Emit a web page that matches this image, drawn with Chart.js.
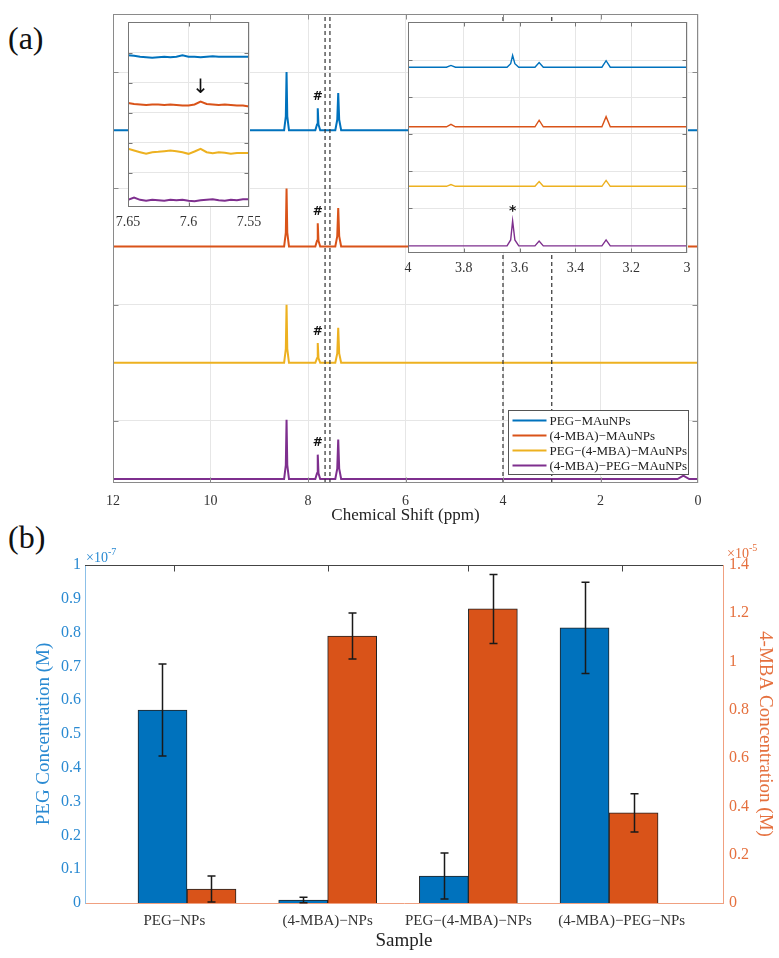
<!DOCTYPE html>
<html>
<head>
<meta charset="utf-8">
<script src="https://cdn.jsdelivr.net/npm/chart.js@4.4.1/dist/chart.umd.min.js"></script>
<style>
  html, body { margin: 0; padding: 0; background: #fff; }
  #wrap { position: relative; width: 779px; height: 958px; font-family: 'Liberation Serif', 'Times New Roman', serif; }
  #wrap canvas { position: absolute; }
  .tag { position: absolute; font-size: 32px; line-height: 1; color: #111; }
</style>
</head>
<body>
<div id="wrap">
  <div class="tag" style="left:8px;top:22px">(a)</div>
  <div class="tag" style="left:8px;top:521px">(b)</div>
  <canvas id="nmr" width="779" height="530" style="left:0;top:0"></canvas>
  <canvas id="zoomA" width="160" height="230" style="left:110px;top:10px"></canvas>
  <canvas id="zoomB" width="300" height="270" style="left:400px;top:10px"></canvas>
  <canvas id="conc" width="779" height="428" style="left:0;top:530px"></canvas>
</div>
<script>
const SERIF = "'Liberation Serif', 'Times New Roman', serif";

// ---- (a) NMR spectra ----
const seriesNames = ['PEG\u2212MAuNPs', '(4-MBA)\u2212MAuNPs', 'PEG\u2212(4-MBA)\u2212MAuNPs', '(4-MBA)\u2212PEG\u2212MAuNPs'];
const seriesColors = ['#0072BD', '#D95319', '#EDB120', '#7E2F8E'];
const stackOffsets = [3, 2, 1, 0];

// full range, normalised intensity
const ppmFull    = [12, 8.49, 8.455, 8.44, 8.425, 8.39, 7.85, 7.815, 7.80, 7.785, 7.75, 7.44, 7.40, 7.38, 7.36, 7.32, 0.42, 0.30, 0.18, 0];
const pegFull    = [0, 0, 0.12, 0.50, 0.12, 0, 0, 0.05, 0.19, 0.05, 0, 0, 0.09, 0.32, 0.09, 0, 0, 0, 0, 0];
const mbaFull    = [0, 0, 0.12, 0.50, 0.12, 0, 0, 0.05, 0.20, 0.05, 0, 0, 0.09, 0.33, 0.09, 0, 0, 0, 0, 0];
const pegMbaFull = [0, 0, 0.12, 0.50, 0.12, 0, 0, 0.04, 0.17, 0.04, 0, 0, 0.08, 0.30, 0.08, 0, 0, 0, 0, 0];
const mbaPegFull = [0, 0, 0.12, 0.51, 0.12, 0, 0, 0.05, 0.21, 0.05, 0, 0, 0.09, 0.34, 0.09, 0, 0, 0.03, 0, 0];
const hashPeakIndex = 8;
const fullYTicks = [0.5, 1.5, 2.5, 3.5];
const zoomEdges = [7.65, 7.55, 4, 3];

// zoom 7.65 - 7.55 ppm
const ppmZoomA    = [7.65, 7.645, 7.64, 7.635, 7.63, 7.625, 7.62, 7.615, 7.61, 7.605, 7.6, 7.595, 7.59, 7.585, 7.58, 7.575, 7.57, 7.565, 7.56, 7.555, 7.55];
const pegZoomA    = [0.035, 0.02, 0, -0.01, -0.02, -0.01, 0, -0.01, 0, 0.03, 0, 0, -0.01, 0, 0.01, 0, 0, 0, 0, 0, 0];
const mbaZoomA    = [0.03, 0.01, 0, -0.01, 0, 0, -0.01, 0, -0.01, -0.02, -0.02, 0, 0.06, 0.01, 0, -0.01, 0, -0.01, -0.02, -0.02, -0.04];
const pegMbaZoomA = [0.07, 0.035, 0, -0.035, 0, 0.007, 0.02, 0.035, 0.02, 0, -0.035, 0.014, 0.07, 0, -0.02, 0, -0.014, -0.035, -0.02, -0.02, -0.02];
const mbaPegZoomA = [0, 0.05, 0, -0.02, 0, -0.01, -0.02, 0, -0.01, 0, -0.02, -0.03, -0.01, 0, 0.01, -0.01, -0.02, 0, -0.01, 0.01, 0.01];
const zoomAYTicks = [0.57, 1.2, 1.83, 2.46, 3.09];
const arrowPpm = 7.59;

// zoom 4 - 3 ppm
const ppmZoomB    = [4, 3.862, 3.846, 3.830, 3.645, 3.632, 3.625, 3.617, 3.603, 3.545, 3.53, 3.515, 3.305, 3.29, 3.275, 3];
const pegZoomB    = [0, 0, 0.03, 0, 0, 0.06, 0.20, 0.06, 0, 0, 0.08, 0, 0, 0.11, 0, 0];
const mbaZoomB    = [0, 0, 0.04, 0, 0, 0, 0, 0, 0, 0, 0.11, 0, 0, 0.17, 0, 0];
const pegMbaZoomB = [0, 0, 0.03, 0, 0, 0, 0, 0, 0, 0, 0.08, 0, 0, 0.10, 0, 0];
const mbaPegZoomB = [0, 0, 0, 0, 0, 0.10, 0.42, 0.10, 0, 0, 0.08, 0, 0, 0.10, 0, 0];
const zoomBYTicks = [0.63, 1.25, 1.88, 2.5, 3.12];
const starPeakIndex = 6;

// ---- (b) concentrations ----
const samples = ['PEG\u2212NPs', '(4-MBA)\u2212NPs', 'PEG\u2212(4-MBA)\u2212NPs', '(4-MBA)\u2212PEG\u2212NPs'];
const samplePos = [1, 2, 3, 4];
const sampleTickPos = [0.91, 2, 3, 4.09];
const pegConc = [0.571, 0.009, 0.080, 0.814];   // x 1e-7 M
const pegErr  = [0.136, 0.008, 0.068, 0.135];
const mbaConc = [0.058, 1.106, 1.218, 0.373];   // x 1e-5 M
const mbaErr  = [0.054, 0.095, 0.143, 0.079];

const toPoints = (xs, ys, off) => xs.map((x, i) => ({ x: x, y: ys[i] + off }));
const plainNum = v => String(parseFloat(Number(v).toFixed(3)));

// box round the axes with inward ticks (matlab look)
const framePlugin = {
  id: 'frame',
  afterDraw(chart, args, o) {
    const { ctx, chartArea: a, scales } = chart;
    const l = Math.round(a.left) + 0.5, t = Math.round(a.top) + 0.5;
    const r = Math.round(a.right) - 0.5, b = Math.round(a.bottom) - 0.5;
    const len = o.tick || 5;
    ctx.save();
    ctx.strokeStyle = o.color;
    ctx.lineWidth = 1;
    ctx.strokeRect(l, t, r - l, b - t);
    ctx.beginPath();
    scales.x.ticks.forEach(tk => {
      const p = Math.round(scales.x.getPixelForValue(tk.value)) + 0.5;
      if (p <= l + 2 || p >= r - 2) return;
      ctx.moveTo(p, t); ctx.lineTo(p, t + len);
      ctx.moveTo(p, b); ctx.lineTo(p, b - len);
    });
    scales.y.ticks.forEach(tk => {
      const p = Math.round(scales.y.getPixelForValue(tk.value)) + 0.5;
      if (p <= t + 2 || p >= b - 2) return;
      ctx.moveTo(l, p); ctx.lineTo(l + len, p);
      ctx.moveTo(r, p); ctx.lineTo(r - len, p);
    });
    ctx.stroke();
    ctx.restore();
  }
};

const whiteBg = {
  id: 'whiteBg',
  beforeDraw(chart) {
    const { ctx, chartArea: a } = chart;
    ctx.save();
    ctx.fillStyle = '#fff';
    ctx.fillRect(a.left, a.top, a.width, a.height);
    ctx.restore();
  }
};

// text marks placed in data coordinates
const marksPlugin = {
  id: 'marks',
  afterDatasetsDraw(chart, args, o) {
    const { ctx, scales } = chart;
    ctx.save();
    ctx.textAlign = 'center';
    ctx.textBaseline = 'middle';
    (o.items || []).forEach(m => {
      ctx.font = m.font;
      ctx.fillStyle = m.color || '#111';
      ctx.fillText(m.text, scales.x.getPixelForValue(m.x), scales.y.getPixelForValue(m.y));
    });
    ctx.restore();
  }
};

const boxLegend = {
  id: 'boxLegend',
  afterDraw(chart, args, o) {
    const { ctx, chartArea: a } = chart;
    const w = 180, h = 64;
    const x0 = Math.round(a.right - 10 - w) + 0.5, y0 = Math.round(a.bottom - 9 - h) + 0.5;
    ctx.save();
    ctx.fillStyle = '#fff';
    ctx.fillRect(x0, y0, w, h);
    ctx.strokeStyle = '#555';
    ctx.lineWidth = 1;
    ctx.strokeRect(x0, y0, w, h);
    ctx.font = '13px ' + SERIF;
    ctx.textBaseline = 'middle';
    ctx.fillStyle = '#222';
    seriesNames.forEach((name, i) => {
      const yy = y0 + 10 + i * 15;
      ctx.strokeStyle = seriesColors[i];
      ctx.lineWidth = 2;
      ctx.beginPath();
      ctx.moveTo(x0 + 4, yy); ctx.lineTo(x0 + 38, yy);
      ctx.stroke();
      ctx.fillText(name, x0 + 41, yy + 1);
    });
    ctx.restore();
  }
};

const fullSpectra = [pegFull, mbaFull, pegMbaFull, mbaPegFull];
const zoomASpectra = [pegZoomA, mbaZoomA, pegMbaZoomA, mbaPegZoomA];
const zoomBSpectra = [pegZoomB, mbaZoomB, pegMbaZoomB, mbaPegZoomB];

const FULL_YMIN = -0.034, FULL_YMAX = 4.0;

const fullDatasets = fullSpectra.map((s, i) => ({
  label: seriesNames[i],
  data: toPoints(ppmFull, s, stackOffsets[i]),
  borderColor: seriesColors[i],
  borderWidth: 2,
  order: 2
}));
zoomEdges.forEach(e => fullDatasets.push({
  data: [{ x: e, y: FULL_YMIN }, { x: e, y: FULL_YMAX }],
  borderColor: '#333',
  borderWidth: 1.2,
  borderDash: [4, 3],
  order: 1
}));

const gridColor = '#e6e6e6';
const tickFont = { family: SERIF, size: 14 };

new Chart(document.getElementById('nmr'), {
  type: 'line',
  data: { datasets: fullDatasets },
  options: {
    responsive: false,
    animation: false,
    events: [],
    layout: { padding: { left: 113, top: 14, right: 81, bottom: 0 } },
    elements: { point: { radius: 0 }, line: { tension: 0 } },
    plugins: {
      legend: { display: false },
      tooltip: { enabled: false },
      frame: { color: '#8a8a8a', tick: 5 },
      marks: {
        items: fullSpectra.map((s, i) => ({
          text: '#', x: ppmFull[hashPeakIndex], y: stackOffsets[i] + s[hashPeakIndex] + 0.1,
          font: 'bold 12px "DejaVu Sans", sans-serif'
        }))
      }
    },
    scales: {
      x: {
        type: 'linear', reverse: true, min: 0, max: 12,
        ticks: { stepSize: 2, padding: 10, color: '#333', font: tickFont, callback: plainNum },
        grid: { color: gridColor, drawTicks: false },
        border: { display: false },
        title: { display: true, text: 'Chemical Shift (ppm)', color: '#222', font: { family: SERIF, size: 17 }, padding: { top: 0, bottom: 4 } },
        afterFit: s => { s.height = 47; s.paddingLeft = 0; s.paddingRight = 0; }
      },
      y: {
        min: FULL_YMIN, max: FULL_YMAX,
        ticks: { display: false },
        grid: { color: gridColor, drawTicks: false },
        border: { display: false },
        afterBuildTicks: s => { s.ticks = fullYTicks.map(v => ({ value: v })); },
        afterFit: s => { s.width = 0; s.paddingTop = 0; s.paddingBottom = 0; }
      }
    }
  },
  plugins: [framePlugin, marksPlugin, boxLegend]
});

function insetChart(id, xs, spectra, lim, yTicks, pad, lineW, xStep, marks) {
  return new Chart(document.getElementById(id), {
    type: 'line',
    data: {
      datasets: spectra.map((s, i) => ({
        data: toPoints(xs, s, stackOffsets[i]),
        borderColor: seriesColors[i],
        borderWidth: lineW
      }))
    },
    options: {
      responsive: false,
      animation: false,
      events: [],
      layout: { padding: { left: pad.left, top: pad.top, right: pad.right, bottom: 0 } },
      elements: { point: { radius: 0 }, line: { tension: 0 } },
      plugins: {
        legend: { display: false },
        tooltip: { enabled: false },
        frame: { color: '#777', tick: 4 },
        marks: { items: marks }
      },
      scales: {
        x: {
          type: 'linear', reverse: true, min: lim.x[1], max: lim.x[0],
          ticks: { stepSize: xStep, padding: 7, color: '#333', font: tickFont, callback: plainNum },
          grid: { color: gridColor, drawTicks: false },
          border: { display: false },
          afterFit: s => { s.height = pad.bottom; s.paddingLeft = 0; s.paddingRight = 0; }
        },
        y: {
          min: lim.y[0], max: lim.y[1],
          ticks: { display: false },
          grid: { color: gridColor, drawTicks: false },
          border: { display: false },
          afterBuildTicks: s => { s.ticks = yTicks.map(v => ({ value: v })); },
          afterFit: s => { s.width = 0; s.paddingTop = 0; s.paddingBottom = 0; }
        }
      }
    },
    plugins: [whiteBg, framePlugin, marksPlugin]
  });
}

insetChart('zoomA', ppmZoomA, zoomASpectra, { x: [7.65, 7.55], y: [-0.15, 3.73] }, zoomAYTicks,
  { left: 18, top: 12, right: 21, bottom: 33 }, 2, 0.05,
  [{ text: '\u2193', x: arrowPpm, y: 2.34, font: '20px "DejaVu Sans", sans-serif' }]);

insetChart('zoomB', ppmZoomB, zoomBSpectra, { x: [4, 3], y: [-0.12, 3.76] }, zoomBYTicks,
  { left: 8, top: 12, right: 13, bottom: 27 }, 1.4, 0.2,
  [{ text: '*', x: ppmZoomB[starPeakIndex], y: mbaPegZoomB[starPeakIndex] + 0.16, font: 'bold 14px "DejaVu Sans", sans-serif' }]);

// ---- (b) ----
const PEG_BLUE = '#0072BD', MBA_ORANGE = '#D95319';
const leftAxisColor = '#2a8ad2', rightAxisColor = '#e5703e';

const errorBars = {
  id: 'errorBars',
  afterDatasetsDraw(chart) {
    const { ctx } = chart;
    ctx.save();
    ctx.strokeStyle = '#1a1a1a';
    ctx.lineWidth = 1.5;
    chart.data.datasets.forEach((ds, di) => {
      const meta = chart.getDatasetMeta(di);
      const ys = chart.scales[ds.yAxisID];
      meta.data.forEach((el, i) => {
        const v = ds.data[i].y, e = ds.errors[i];
        const top = ys.getPixelForValue(v + e), bot = ys.getPixelForValue(Math.max(v - e, 0));
        const x = Math.round(el.x) + 0.5;
        ctx.beginPath();
        ctx.moveTo(x, top); ctx.lineTo(x, bot);
        ctx.moveTo(x - 4, top); ctx.lineTo(x + 4, top);
        ctx.moveTo(x - 4, bot); ctx.lineTo(x + 4, bot);
        ctx.stroke();
      });
    });
    ctx.restore();
  }
};

const topEdge = {
  id: 'topEdge',
  afterDraw(chart) {
    const { ctx, chartArea: a, scales } = chart;
    const t = Math.round(a.top) + 0.5;
    ctx.save();
    ctx.strokeStyle = '#444';
    ctx.lineWidth = 1;
    ctx.beginPath();
    ctx.moveTo(a.left, t); ctx.lineTo(a.right, t);
    scales.x.ticks.forEach(tk => {
      const p = Math.round(scales.x.getPixelForValue(tk.value)) + 0.5;
      ctx.moveTo(p, t); ctx.lineTo(p, t + 6);
    });
    ctx.stroke();
    // axis exponents
    const expo = (x, y, power, color) => {
      ctx.fillStyle = color;
      ctx.textBaseline = 'alphabetic';
      ctx.font = '14px ' + SERIF;
      const w1 = ctx.measureText('\u00d710').width;
      ctx.fillText('\u00d710', x, y);
      ctx.font = '10px ' + SERIF;
      ctx.fillText(power, x + w1, y - 7);
    };
    expo(a.left + 1, a.top - 3, '-7', leftAxisColor);
    expo(a.right + 4, a.top - 7, '-5', rightAxisColor);
    ctx.restore();
  }
};

new Chart(document.getElementById('conc'), {
  type: 'bar',
  data: {
    datasets: [
      {
        label: 'PEG',
        data: samplePos.map((x, i) => ({ x: x, y: pegConc[i] })),
        errors: pegErr,
        yAxisID: 'y',
        backgroundColor: PEG_BLUE,
        borderColor: '#222',
        borderWidth: 1
      },
      {
        label: '4-MBA',
        data: samplePos.map((x, i) => ({ x: x, y: mbaConc[i] })),
        errors: mbaErr,
        yAxisID: 'y1',
        backgroundColor: MBA_ORANGE,
        borderColor: '#222',
        borderWidth: 1
      }
    ]
  },
  options: {
    responsive: false,
    animation: false,
    events: [],
    barThickness: 49,
    layout: { padding: { left: 0, top: 35, right: 0, bottom: 0 } },
    plugins: { legend: { display: false }, tooltip: { enabled: false } },
    scales: {
      x: {
        type: 'linear', offset: false, min: 0.275, max: 4.81,
        afterBuildTicks: s => { s.ticks = sampleTickPos.map(v => ({ value: v })); },
        ticks: {
          autoSkip: false, maxRotation: 0, minRotation: 0, padding: 9,
          color: '#333', font: { family: SERIF, size: 15 },
          callback: (v, i) => samples[i]
        },
        grid: { display: false, offset: false, drawTicks: false },
        border: { color: '#f0a080' },
        title: { display: true, text: 'Sample', color: '#222', font: { family: SERIF, size: 19 }, padding: { top: 0, bottom: 6 } },
        afterFit: s => { s.height = 55; }
      },
      y: {
        position: 'left', min: 0, max: 1,
        ticks: { stepSize: 0.1, padding: 4, color: leftAxisColor, font: { family: SERIF, size: 16 }, callback: plainNum },
        grid: { display: false, drawTicks: false },
        border: { color: '#8cc0e8' },
        title: { display: true, text: 'PEG Concentration (M)', color: leftAxisColor, font: { family: SERIF, size: 19 }, padding: { top: 33, bottom: 0 } },
        afterFit: s => { s.width = 85; }
      },
      y1: {
        position: 'right', min: 0, max: 1.4,
        ticks: { stepSize: 0.2, padding: 6, color: rightAxisColor, font: { family: SERIF, size: 16 }, callback: plainNum },
        grid: { display: false, drawTicks: false },
        border: { color: '#f0a080' },
        title: { display: true, text: '4-MBA Concentration (M)', color: rightAxisColor, font: { family: SERIF, size: 19 }, padding: { top: 3, bottom: 0 } },
        afterFit: s => { s.width = 56; }
      }
    }
  },
  plugins: [errorBars, topEdge]
});
</script>
</body>
</html>
